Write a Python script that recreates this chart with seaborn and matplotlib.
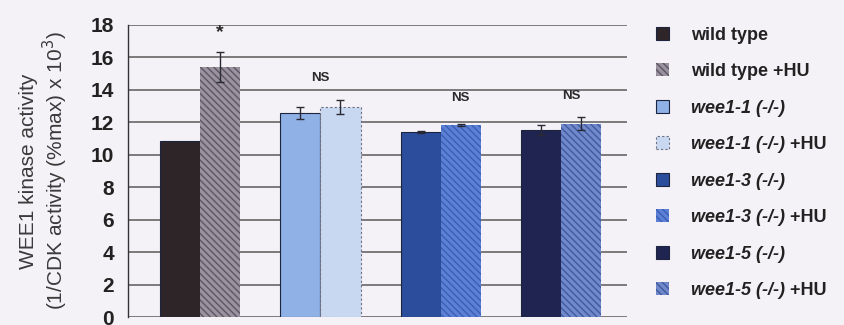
"""WEE1 kinase activity in wild type and wee1 mutants, with and without HU."""

import matplotlib
matplotlib.use("Agg")
import matplotlib.pyplot as plt
import pandas as pd
import seaborn as sns

# --- data ------------------------------------------------------------------
groups = ["wild type", "wee1-1", "wee1-3", "wee1-5"]
treatments = ["untreated", "HU"]
activity = [
    [10.86, 15.43],
    [12.59, 12.96],
    [11.42, 11.85],
    [11.54, 11.91],
]
errors = [
    [0.0, 0.93],
    [0.37, 0.43],
    [0.05, 0.05],
    [0.30, 0.40],
]
legend_labels = [
    "wild type", "wild type +HU",
    "wee1-1 (-/-)", "wee1-1 (-/-) +HU",
    "wee1-3 (-/-)", "wee1-3 (-/-) +HU",
    "wee1-5 (-/-)", "wee1-5 (-/-) +HU",
]
bar_colors = [
    ["#2e2529", "#9a92a0"],
    ["#8fb1e6", "#c9d8f1"],
    ["#2c4d9c", "#5c80d6"],
    ["#1f2550", "#7189cb"],
]
hatch_colors = [
    [None, "#5e5560"],
    [None, None],
    [None, "#3a5fb5"],
    [None, "#3f5aa0"],
]
# significance marks: (group, position across the pair, text, y)
marks = [
    (0, 1, "*", 17.55),
    (1, 0.5, "NS", 14.75),
    (2, 1, "NS", 13.5),
    (3, 0.75, "NS", 13.6),
]

# --- tidy frame --------------------------------------------------------------
rows = []
for gi, g in enumerate(groups):
    for ti, t in enumerate(treatments):
        rows.append({"group": g, "treatment": t, "activity": activity[gi][ti]})
df = pd.DataFrame(rows)

sns.set_style("white")
plt.rcParams["font.family"] = ["Liberation Sans", "DejaVu Sans"]

bg = "#f5f2f7"
fig = plt.figure(figsize=(8.44, 3.25), dpi=100, facecolor=bg)
ax = fig.add_axes([0.1517, 0.0246, 0.5913, 0.8985])
ax.set_facecolor(bg)

sns.barplot(
    data=df, x="group", y="activity", hue="treatment",
    order=groups, hue_order=treatments, width=0.667,
    errorbar=None, legend=False, ax=ax, zorder=3,
)

# seaborn orders patches hue-level first, then x
patches = [p for p in ax.patches if p.get_height() > 0]
handles = []
for gi in range(len(groups)):
    for ti in range(len(treatments)):
        p = patches[ti * len(groups) + gi]
        p.set_facecolor(bar_colors[gi][ti])
        hc = hatch_colors[gi][ti]
        if hc is not None:
            p.set_hatch("\\\\\\\\\\")
            p.set_edgecolor(hc)
            p.set_linewidth(0.0)
        else:
            p.set_edgecolor("#1c2440")
            p.set_linewidth(0.8)
        if gi == 1 and ti == 1:
            p.set_edgecolor("#6b6f80")
            p.set_linestyle((0, (2, 2)))
        handles.append(p)
        x = p.get_x() + p.get_width() / 2
        if errors[gi][ti] > 0:
            ax.errorbar(x, p.get_height(), yerr=errors[gi][ti], fmt="none",
                        ecolor="#2a2a35", elinewidth=1.0, capsize=3,
                        capthick=1.0, zorder=4)

for gi, ti, txt, y in marks:
    left = patches[gi]
    x = left.get_x() + left.get_width() * (0.5 + ti)
    ax.text(x, y, txt, ha="center", va="center", fontsize=9.5 if txt == "NS" else 14,
            fontweight="bold", color="#2a2a2a", zorder=5)

# axes styling
ax.set_ylim(0, 18)
ax.set_xlim(-0.6, 3.55)
ax.set_yticks(range(0, 19, 2))
ax.yaxis.grid(True, color="#5a5a5a", linewidth=1.1, zorder=0)
ax.set_axisbelow(True)
for s in ["top", "right", "bottom"]:
    ax.spines[s].set_visible(False)
ax.spines["left"].set_color("#333333")
ax.spines["left"].set_linewidth(1.0)
ax.tick_params(axis="y", direction="out", length=4, width=1, color="#333333",
               labelsize=15, pad=6)
for lab in ax.get_yticklabels():
    lab.set_fontweight("bold")
    lab.set_color("#222222")
ax.set_xticks([])
ax.set_xlabel("")
ax.set_ylabel("WEE1 kinase activity\n(1/CDK activity (%max) x 10$^3$)",
              fontsize=15, color="#3a3a3a", labelpad=15, linespacing=1.1)

# legend: italic genotype names, "+HU" appended upright
leg_names = [lab.replace(" +HU", "") for lab in legend_labels]
leg_fs = 13
leg = fig.legend(handles, leg_names, loc="upper left",
                 bbox_to_anchor=(0.769, 0.94), frameon=False,
                 prop={"size": leg_fs, "weight": "bold"},
                 handlelength=0.72, handleheight=0.72, handletextpad=1.2,
                 labelspacing=1.08, borderaxespad=0)
for t, full in zip(leg.get_texts(), legend_labels):
    t.set_color("#222222")
    if full.startswith("wee1"):
        t.set_fontstyle("italic")

fig.canvas.draw()
renderer = fig.canvas.get_renderer()
inv = fig.transFigure.inverted()
for t, full in zip(leg.get_texts(), legend_labels):
    if full.endswith("+HU"):
        bb = t.get_window_extent(renderer)
        x1, y0 = inv.transform((bb.x1, bb.y0))
        fig.text(x1, y0, " +HU", va="bottom", ha="left", fontsize=leg_fs,
                 fontweight="bold", color="#222222")

fig.savefig("out.png", dpi=100, facecolor=bg)
